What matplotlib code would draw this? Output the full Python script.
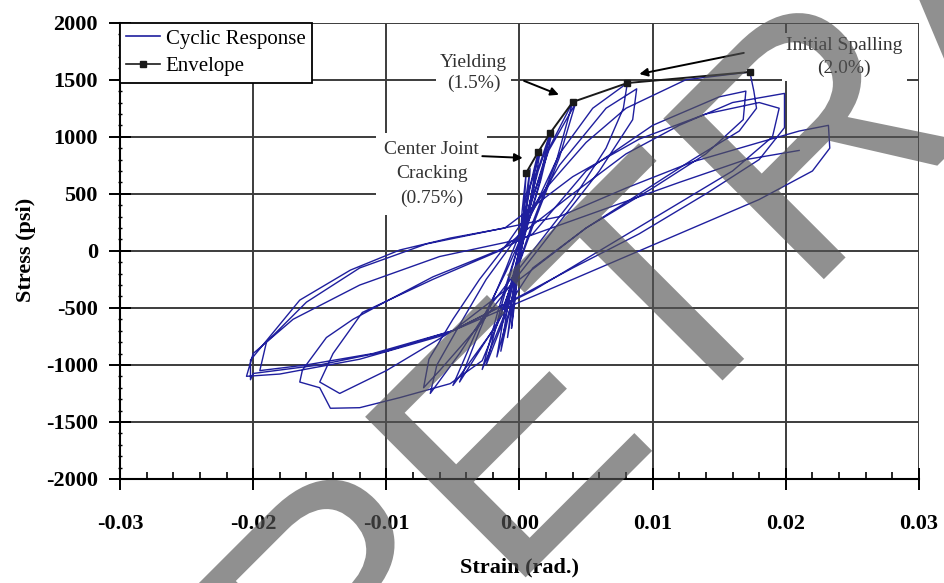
import matplotlib
matplotlib.use("Agg")
import matplotlib.pyplot as plt
from matplotlib.ticker import MultipleLocator, FixedLocator
from matplotlib.textpath import TextPath
from matplotlib.patches import PathPatch
from matplotlib.font_manager import FontProperties
from matplotlib.transforms import Affine2D
from matplotlib.lines import Line2D

plt.rcParams["axes.unicode_minus"] = False
plt.rcParams["font.family"] = ["Liberation Serif", "DejaVu Serif"]

# ---- data (strain in rad, stress in psi) ----
cyclic_strain = [
    # small cycles around the origin
    0.0, 0.0002, 0.0005, 0.0003, 0.0, -0.0003, -0.0006, -0.0003, 0.0,
    0.0004, 0.0008, 0.0005, 0.0001, -0.0004, -0.0009, -0.0005, 0.0,
    0.0007, 0.0014, 0.0008, 0.0002, -0.0006, -0.0014, -0.0008, 0.0001,
    0.0008, 0.0016, 0.0010, 0.0003, -0.0007, -0.0017, -0.0010, 0.0002,
    0.0012, 0.0023, 0.0015, 0.0004, -0.0010, -0.0025, -0.0014, 0.0001,
    0.0014, 0.0025, 0.0016, 0.0005, -0.0012, -0.0028, -0.0016, 0.0002,
    0.0020, 0.0040, 0.0028, 0.0010, -0.0015, -0.0045, -0.0030, -0.0010, 0.0005,
    0.0022, 0.0042, 0.0030, 0.0012, -0.0017, -0.0050, -0.0033, -0.0010,
    # 0.8 % cycles
    0.0010, 0.0030, 0.0055, 0.0081, 0.0078, 0.0065, 0.0040, 0.0010, -0.0020,
    -0.0045, -0.0067, -0.0062, -0.0045, -0.0025, 0.0,
    0.0030, 0.0065, 0.0088, 0.0085, 0.0060, 0.0030, 0.0, -0.0030, -0.0060,
    -0.0072, -0.0068, -0.0050, -0.0030, -0.0010,
    # 1.7 % cycles
    0.0020, 0.0050, 0.0080, 0.0125, 0.0173, 0.0176, 0.0178, 0.0165, 0.0130,
    0.0090, 0.0050, 0.0010, -0.0015, -0.0028, -0.0052, -0.0090, -0.0120,
    -0.0142, -0.0150, -0.0165, -0.0163, -0.0145, -0.0125, -0.0098, -0.0065,
    -0.0015, 0.0010,
    0.0050, 0.0100, 0.0150, 0.0170, 0.0168, 0.0140, 0.0100, 0.0050, 0.0,
    -0.0050, -0.0100, -0.0135, -0.0150, -0.0140, -0.0118, -0.0065, -0.0015,
    # 2.0 % cycles
    0.0040, 0.0080, 0.0120, 0.0160, 0.0199, 0.0199, 0.0180, 0.0140, 0.0090,
    0.0040, 0.0, -0.0050, -0.0100, -0.0150, -0.0200, -0.0202, -0.0202,
    -0.0165, -0.0127, -0.0090, -0.0052, -0.0011,
    0.0040, 0.0090, 0.0140, 0.0180, 0.0195, 0.0190, 0.0160, 0.0110, 0.0060,
    0.0010, -0.0050, -0.0110, -0.0160, -0.0195, -0.0190, -0.0160, -0.0120,
    -0.0070, -0.0020,
    # 2.3 % cycle
    0.0030, 0.0080, 0.0130, 0.0180, 0.0210, 0.0232, 0.0233, 0.0220, 0.0180,
    0.0120, 0.0060, 0.0, -0.0060, -0.0120, -0.0180, -0.0205, -0.0200,
    -0.0170, -0.0120, -0.0060, 0.0, 0.0060, 0.0120, 0.0170, 0.0210,
]
cyclic_stress = [
    0, 350, 683, 300, -50, -400, -680, -300, 20,
    400, 720, 350, 0, -420, -760, -380, 50,
    520, 866, 430, 50, -450, -880, -420, 80,
    560, 900, 500, 100, -500, -930, -450, 100,
    650, 1032, 600, 150, -550, -1000, -500, 120,
    700, 1060, 620, 180, -580, -1040, -520, 150,
    850, 1305, 800, 250, -600, -1150, -700, -150, 300,
    880, 1290, 820, 280, -650, -1180, -720, -180,
    350, 850, 1250, 1471, 1250, 900, 450, 0, -450,
    -900, -1250, -1000, -650, -250, 150,
    750, 1250, 1420, 1150, 700, 250, -200, -650, -1050,
    -1200, -950, -600, -250, 50,
    550, 950, 1250, 1500, 1568, 1400, 1250, 1050, 800,
    500, 200, -150, -600, -963, -1164, -1287, -1375,
    -1380, -1200, -1150, -1045, -760, -600, -430, -228,
    8, 150,
    700, 1100, 1350, 1400, 1150, 850, 550, 200, -250,
    -700, -1050, -1250, -1150, -900, -540, -250, 0,
    500, 850, 1100, 1300, 1380, 1080, 800, 500, 150,
    -150, -400, -700, -880, -1000, -1075, -1130, -958,
    -432, -169, 7, 112, 200,
    650, 980, 1200, 1300, 1250, 1000, 700, 350, 0,
    -350, -700, -900, -1000, -1050, -800, -450, -150,
    60, 180,
    300, 550, 780, 950, 1050, 1100, 900, 700, 450,
    150, -150, -450, -750, -950, -1080, -1100, -900,
    -600, -300, -50, 100, 350, 600, 800, 880,
]

envelope_strain = [0.0005, 0.0014, 0.0023, 0.0040, 0.0081, 0.0173]
envelope_stress = [683, 866, 1032, 1305, 1471, 1568]

x_ticks = [-0.03, -0.02, -0.01, 0.00, 0.01, 0.02, 0.03]
x_ticklabels = ["-0.03", "-0.02", "-0.01", "0.00", "0.01", "0.02", "0.03"]
y_ticks = [-2000, -1500, -1000, -500, 0, 500, 1000, 1500, 2000]

BLUE = "#1f1f9e"
GRID = "#3c3c3c"

fig = plt.figure(figsize=(9.44, 5.83), dpi=100, facecolor="white")
ax = fig.add_axes([0.1271, 0.1784, 0.8464, 0.7827])

ax.plot(cyclic_strain, cyclic_stress, color=BLUE, lw=1.0, zorder=3)
ax.plot(envelope_strain, envelope_stress, color="#1a1a1a", lw=1.4,
        marker="s", ms=5, zorder=4)

ax.set_xlim(-0.03, 0.03)
ax.set_ylim(-2000, 2000)
ax.xaxis.set_major_locator(FixedLocator(x_ticks))
ax.set_xticklabels(x_ticklabels)
ax.yaxis.set_major_locator(FixedLocator(y_ticks))
ax.xaxis.set_minor_locator(MultipleLocator(0.002))
ax.yaxis.set_minor_locator(MultipleLocator(100))
ax.grid(True, which="major", color=GRID, lw=1.4)
ax.set_axisbelow(True)

for s in ("top", "right"):
    ax.spines[s].set_visible(False)
for s in ("left", "bottom"):
    ax.spines[s].set_color("black")
    ax.spines[s].set_linewidth(1.5)

ax.tick_params(axis="x", which="major", direction="inout", length=16,
               width=1.4, pad=17, labelsize=16)
ax.tick_params(axis="y", which="major", direction="inout", length=16,
               width=1.4, pad=8, labelsize=16)
ax.tick_params(axis="x", which="minor", direction="in", length=5, width=1.2)
ax.tick_params(axis="y", which="minor", direction="inout", length=3, width=1.0)
for lab in ax.get_xticklabels() + ax.get_yticklabels():
    lab.set_fontweight("bold")

fig.text(520 / 944, 1 - 567 / 583, "Strain (rad.)", ha="center", va="center",
         fontsize=16, fontweight="bold")
fig.text(26 / 944, 1 - 250 / 583, "Stress (psi)", ha="center", va="center",
         rotation=90, fontsize=16, fontweight="bold")

handles = [
    Line2D([], [], color=BLUE, lw=1.2),
    Line2D([], [], color="#1a1a1a", lw=1.2, marker="s", ms=4),
]
leg = ax.legend(handles, ["Cyclic Response", "Envelope"], loc="upper left",
                bbox_to_anchor=(0, 1), borderaxespad=0, fontsize=15,
                handlelength=1.6, handletextpad=0.3, borderpad=0.3,
                labelspacing=0.4, fancybox=False, framealpha=1)
leg.get_frame().set_edgecolor("black")
leg.get_frame().set_linewidth(1.3)

# ---- annotations ----
box = dict(facecolor="white", edgecolor="none", pad=3)
ax.text(-0.00345, 1560, "Yielding\n(1.5%)", ha="center", va="center",
        fontsize=14, color="#333333", linespacing=1.3, bbox=box, zorder=5)
ax.annotate("", xy=(0.00315, 1359), xytext=(0.00015, 1499),
            arrowprops=dict(arrowstyle="-|>", color="black", lw=1.4,
                            mutation_scale=12), zorder=6)
ax.text(-0.0066, 675, "Center Joint\nCracking\n(0.75%)", ha="center",
        va="center", fontsize=14, color="#333333", linespacing=1.55,
        bbox=dict(facecolor="white", edgecolor="none", pad=6), zorder=5)
ax.annotate("", xy=(0.00045, 814), xytext=(-0.0030, 831),
            arrowprops=dict(arrowstyle="-|>", color="black", lw=1.4,
                            mutation_scale=12), zorder=6)
ax.text(0.0244, 1700, "Initial Spalling\n(2.0%)", ha="center", va="center",
        fontsize=14, color="#333333", linespacing=1.4, bbox=box, zorder=5)
ax.annotate("", xy=(0.0088, 1545), xytext=(0.01705, 1740),
            arrowprops=dict(arrowstyle="-|>", color="black", lw=1.4,
                            mutation_scale=12), zorder=6)

# ---- diagonal watermark (pixel coords, origin bottom-left) ----
tp = TextPath((0, 0), "RETRACTED", size=330,
              prop=FontProperties(family="Liberation Sans"))
tr = Affine2D().rotate_deg(45).translate(338, -182).scale(1 / fig.dpi) + fig.dpi_scale_trans
fig.add_artist(PathPatch(tp, transform=tr, facecolor="#555555",
                         edgecolor="none", alpha=0.65, zorder=20))

fig.savefig("out.png", dpi=100, facecolor="white")
